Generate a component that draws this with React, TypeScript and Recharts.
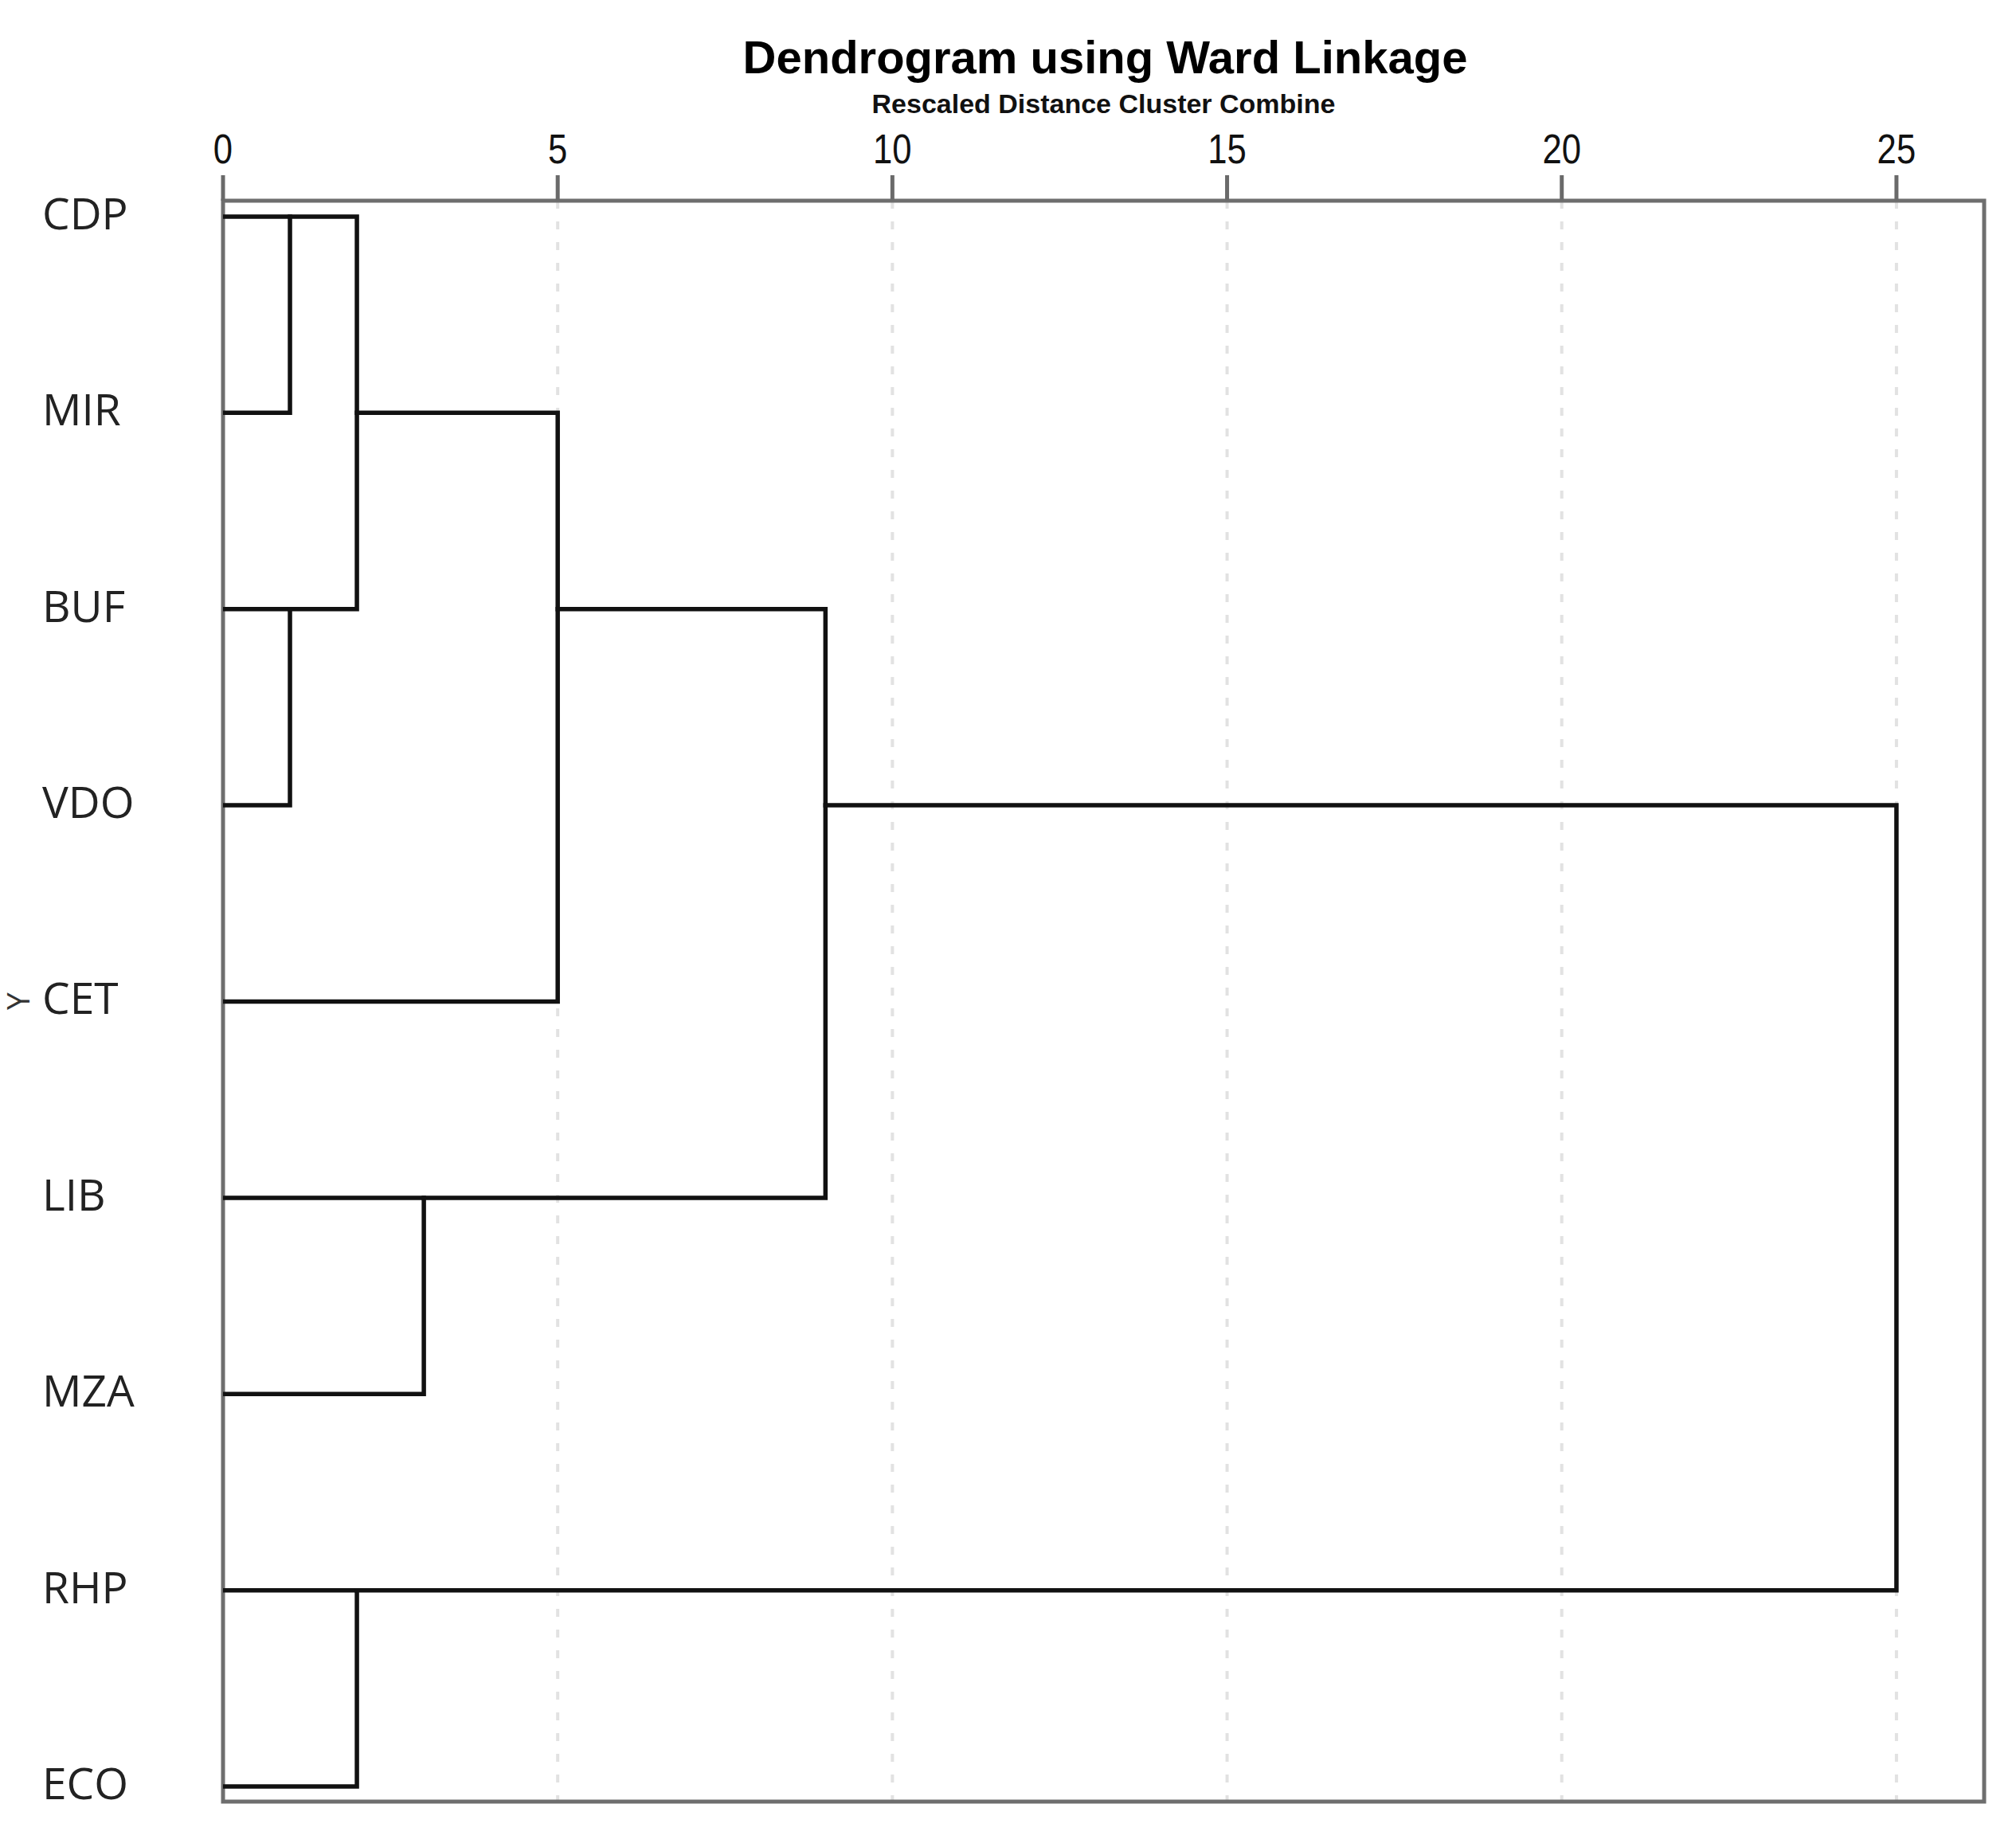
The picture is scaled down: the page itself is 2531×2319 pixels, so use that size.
import React from 'react';
import { ScatterChart, Scatter, XAxis, YAxis, CartesianGrid, ReferenceArea, Label } from 'recharts';

const leafLabels = ['CDP', 'MIR', 'BUF', 'VDO', 'CET', 'LIB', 'MZA', 'RHP', 'ECO'];
const rowTicks = [0, 1, 2, 3, 4, 5, 6, 7, 8];
const distanceTicks = [0, 5, 10, 15, 20, 25];

// merges (rows are leaf positions, distances are rescaled)
const mergeName = ['CDP+MIR', 'BUF+VDO', 'C1+C2', 'C3+CET', 'LIB+MZA', 'C4+C5', 'RHP+ECO', 'C6+C7'];
const upperRow = [0, 2, 0, 1, 5, 2, 7, 3];
const upperFrom = [0, 0, 1, 2, 0, 5, 0, 9];
const lowerRow = [1, 3, 2, 4, 6, 5, 8, 7];
const lowerFrom = [0, 0, 1, 0, 0, 3, 0, 2];
const mergeDistance = [1, 1, 2, 5, 3, 9, 2, 25];

const X_MAX = 26.31;
const Y_MIN = -0.081;
const Y_MAX = 8.077;

const links = mergeName.map((name, i) => ({
  name,
  data: [
    { d: upperFrom[i], r: upperRow[i] },
    { d: mergeDistance[i], r: upperRow[i] },
    { d: mergeDistance[i], r: lowerRow[i] },
    { d: lowerFrom[i], r: lowerRow[i] },
  ],
}));

const NoShape = () => <g />;

const XTick = (props: any) => {
  const { x, y, payload } = props;
  return (
    <g transform={`translate(${x},${y}) scale(0.84,1)`}>
      <text x={0} y={0} textAnchor="middle" fontFamily="Liberation Sans, Arial, sans-serif" fontSize={52} fill="#111">
        {payload.value}
      </text>
    </g>
  );
};

const YTick = (props: any) => {
  const { x, y, payload } = props;
  return (
    <text x={x} y={y + 16} textAnchor="start" fontFamily="Open Sans, sans-serif" fontSize={55} fill="#222">
      {leafLabels[payload.value]}
    </text>
  );
};

const TitleContent = (props: any) => {
  const vb = props.viewBox || { x: 280, width: 2211 };
  const cx = vb.x + vb.width / 2;
  return (
    <g>
      <text x={cx + 2} y={92} textAnchor="middle" fontFamily="Liberation Sans, Arial, sans-serif" fontWeight="bold" fontSize={58} fill="#000">
        Dendrogram using Ward Linkage
      </text>
      <text x={cx} y={142} textAnchor="middle" fontFamily="Liberation Sans, Arial, sans-serif" fontWeight="bold" fontSize={34} fill="#111">
        Rescaled Distance Cluster Combine
      </text>
    </g>
  );
};

const YLabelContent = (props: any) => {
  const vb = props.viewBox || { x: 0, y: 252, width: 280, height: 2010 };
  const cx = vb.x + 21;
  const cy = vb.y + vb.height / 2;
  return (
    <text x={cx} y={cy} transform={`rotate(-90, ${cx}, ${cy})`} textAnchor="middle" dominantBaseline="central" fontFamily="Open Sans, sans-serif" fontSize={39} fill="#333">
      Y
    </text>
  );
};

export default function App() {
  return (
    <div style={{ position: 'absolute', left: 0, top: 0, width: 2531, height: 2319, background: '#fff' }}>
      <ScatterChart width={2531} height={2319} margin={{ top: 192, right: 40, bottom: 57, left: 0 }}>
        <CartesianGrid horizontal={false} stroke="#e2e2e2" strokeWidth={4} strokeDasharray="10 16" />
        <XAxis
          type="number"
          dataKey="d"
          orientation="top"
          domain={[0, X_MAX]}
          ticks={distanceTicks}
          allowDataOverflow
          height={60}
          axisLine={false}
          tickLine={{ stroke: '#6a6a6a', strokeWidth: 5 }}
          tickSize={32}
          tickMargin={15}
          tick={<XTick />}
          interval={0}
        >
          <Label content={<TitleContent />} />
        </XAxis>
        <YAxis
          type="number"
          dataKey="r"
          domain={[Y_MIN, Y_MAX]}
          reversed
          ticks={rowTicks}
          allowDataOverflow
          width={280}
          axisLine={false}
          tickLine={false}
          tickSize={0}
          tickMargin={227}
          tick={<YTick />}
          interval={0}
        >
          <Label content={<YLabelContent />} />
        </YAxis>
        {links.map((l) => (
          <Scatter
            key={l.name}
            name={l.name}
            data={l.data}
            shape={<NoShape />}
            line={{ stroke: '#111', strokeWidth: 5.5, strokeLinejoin: 'miter', strokeLinecap: 'square' }}
            lineType="joint"
            isAnimationActive={false}
          />
        ))}
        <ReferenceArea
          x1={0}
          x2={X_MAX}
          y1={Y_MIN}
          y2={Y_MAX}
          fill="none"
          fillOpacity={0}
          stroke="#6e6e6e"
          strokeWidth={5}
          ifOverflow="visible"
        />
      </ScatterChart>
    </div>
  );
}
